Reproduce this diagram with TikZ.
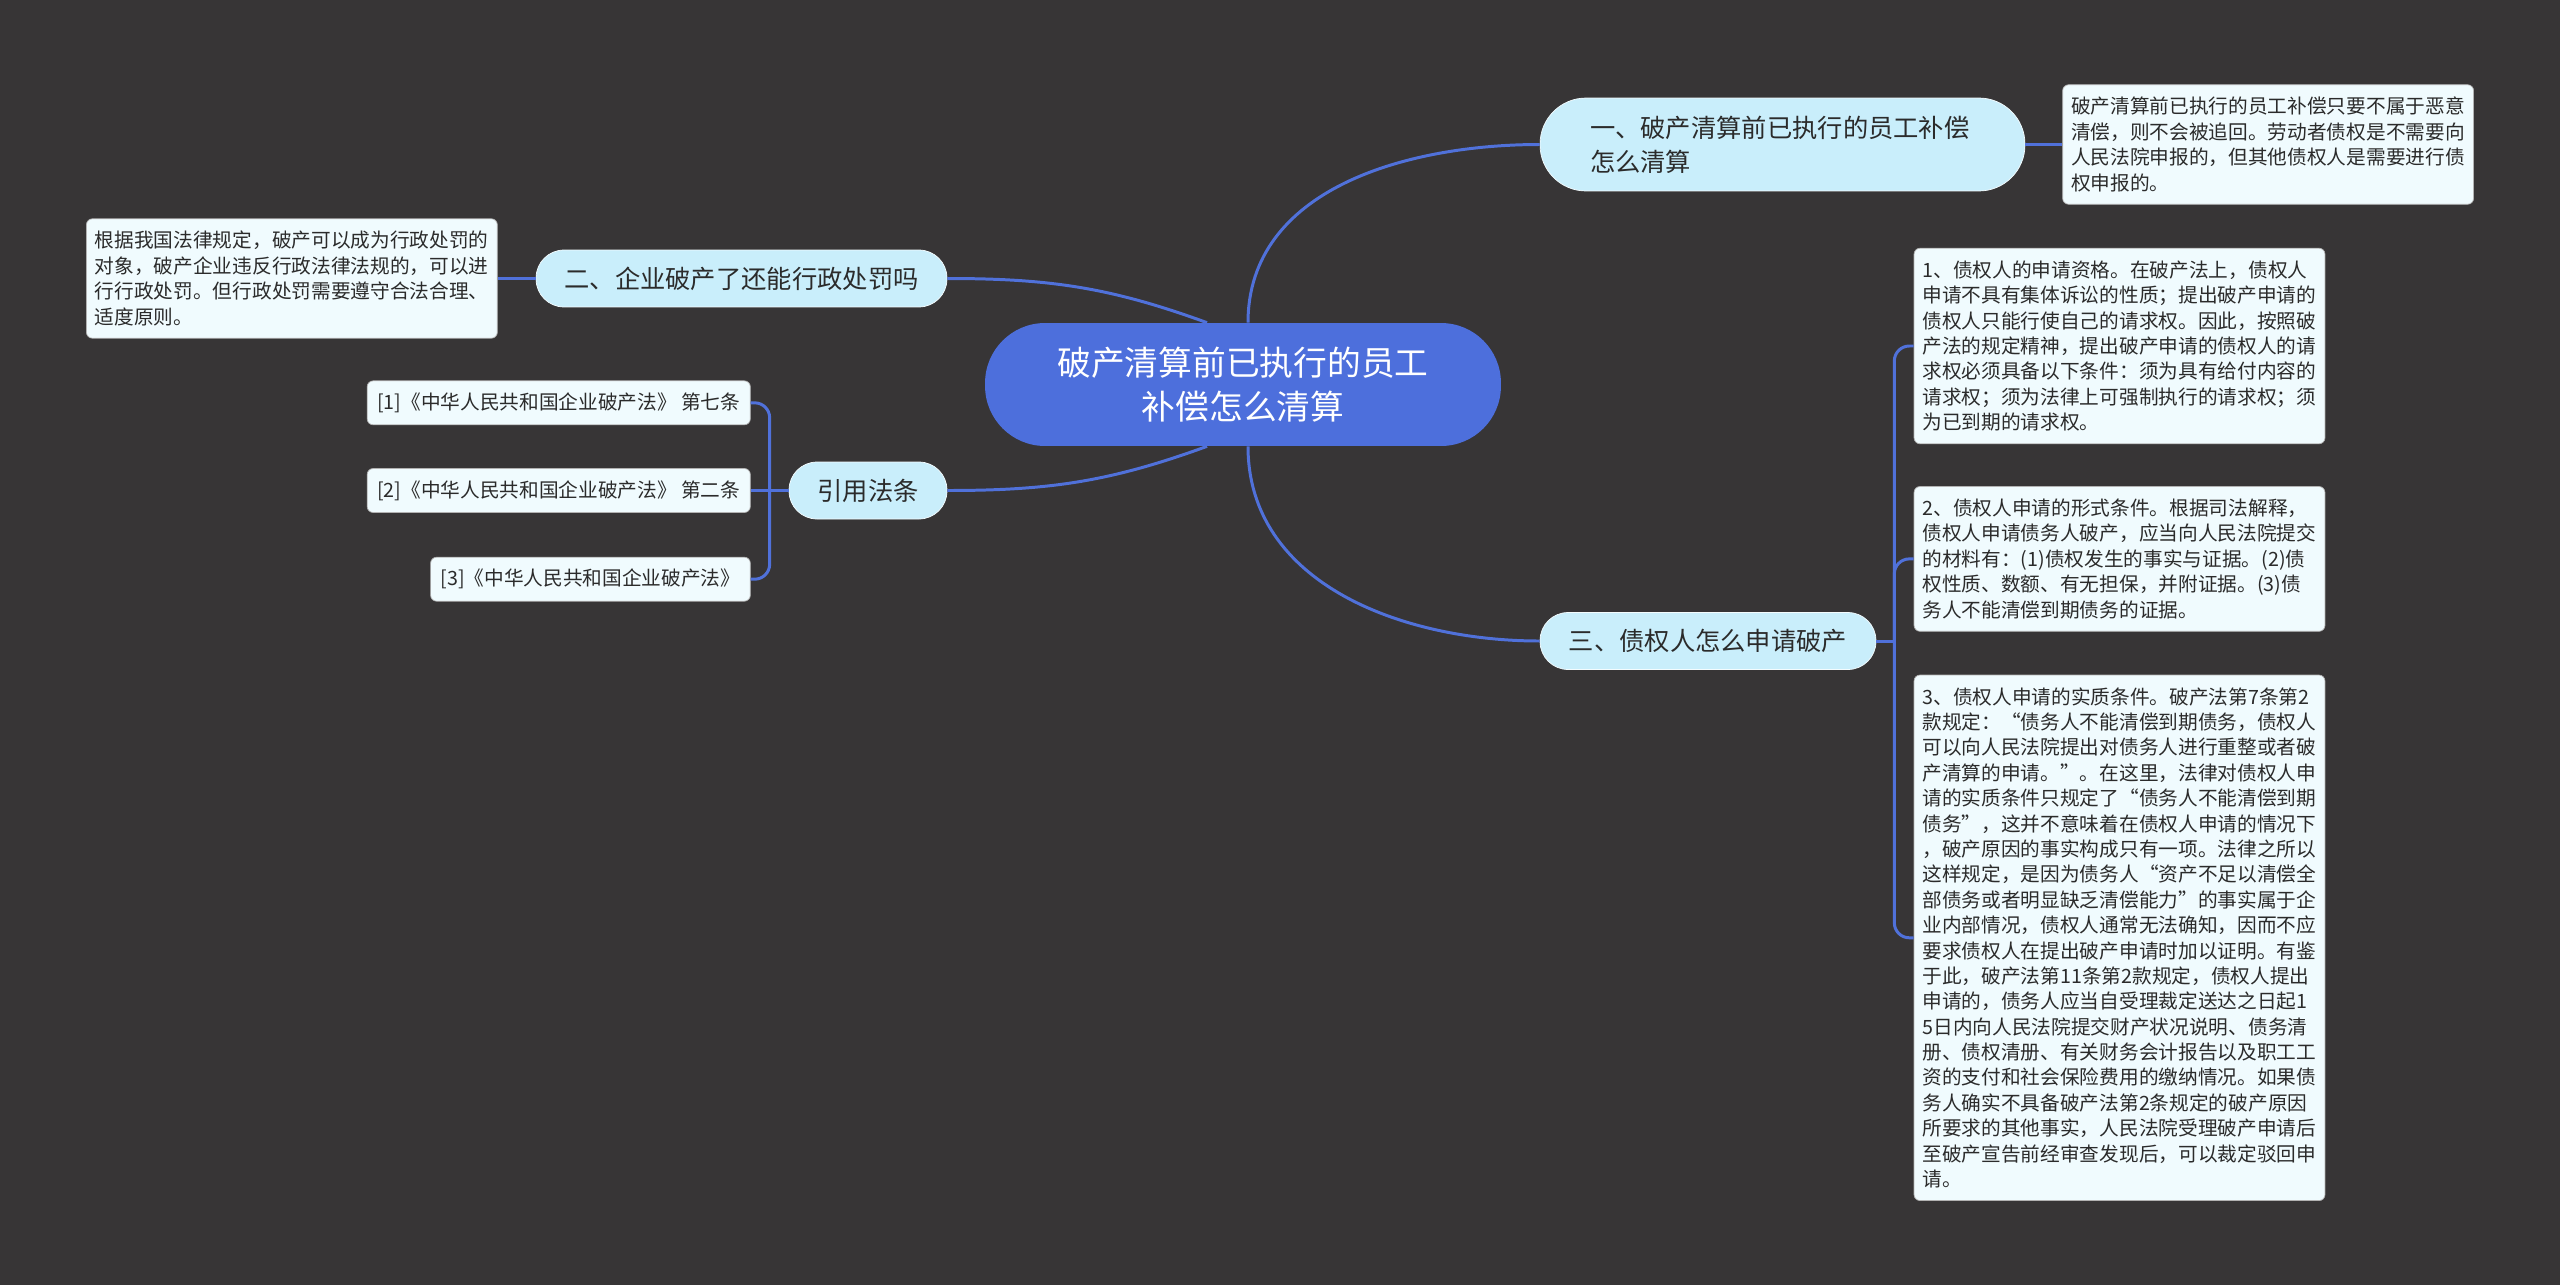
\documentclass[tikz,border=0pt]{standalone}
\usepackage{fontspec}
\setmainfont{Noto Sans CJK SC}
\usetikzlibrary{positioning}
\definecolor{bgdark}{HTML}{373536}
\definecolor{rootblue}{HTML}{4D6FDC}
\definecolor{lineblue}{HTML}{5071DA}
\definecolor{branchblue}{HTML}{C9EEFB}
\definecolor{leafwhite}{HTML}{F0FBFE}
\definecolor{textdark}{HTML}{2B2B2B}
\tikzstyle{root} = [rectangle, rounded corners=1.2cm, minimum width=10.32cm, minimum height=2.46cm, align=center, fill=rootblue, text=white, font=\fontsize{19.2}{25}\selectfont]
\tikzstyle{branch} = [rectangle, rounded corners=0.56cm, minimum height=1.14cm, align=center, fill=branchblue, draw=white!80!branchblue, text=textdark, font=\fontsize{14.4}{19.5}\selectfont]
\tikzstyle{leaf} = [rectangle, rounded corners=0.12cm, text width=7.88cm, inner xsep=0.17cm, inner ysep=0.25cm, align=left, fill=leafwhite, draw=gray!60, text=textdark, font=\fontsize{11.2}{14.45}\selectfont]
\tikzstyle{refbox} = [rectangle, rounded corners=0.12cm, minimum height=0.88cm, inner xsep=0.2cm, fill=leafwhite, draw=gray!60, text=textdark, font=\fontsize{11.2}{14.45}\selectfont]
\tikzstyle{link} = [lineblue, line width=1.7pt]

\begin{document}
\begin{tikzpicture}[x=0.02cm, y=-0.02cm]
\fill [bgdark] (0,0) rectangle (2560,1285);

\node (root) [root] at (1243,384.5) {破产清算前已执行的员工\\补偿怎么清算};

\node (b1) [branch, rounded corners=0.92cm, minimum height=1.86cm, minimum width=9.7cm, text width=7.7cm, align=left] at (1782.5,144.5) {一、破产清算前已执行的员工补偿\\怎么清算};
\node (leaf1) [leaf, right=0.74cm of b1] {破产清算前已执行的员工补偿只要不属于恶意\\清偿，则不会被追回。劳动者债权是不需要向\\人民法院申报的，但其他债权人是需要进行债\\权申报的。};

\node (b2) [branch, minimum width=8.22cm] at (741.5,278.5) {二、企业破产了还能行政处罚吗};
\node (leaf2) [leaf, left=0.76cm of b2] {根据我国法律规定，破产可以成为行政处罚的\\对象，破产企业违反行政法律法规的，可以进\\行行政处罚。但行政处罚需要遵守合法合理、\\适度原则。};

\node (lawref) [branch, minimum width=3.16cm] at (868,490.5) {引用法条};
\node (ref2) [refbox, left=0.76cm of lawref] {[2]《中华人民共和国企业破产法》 第二条};
\node (ref1) [refbox, above=0.86cm of ref2.north east, anchor=south east] {[1]《中华人民共和国企业破产法》 第七条};
\node (ref3) [refbox, below=0.88cm of ref2.south east, anchor=north east] {[3]《中华人民共和国企业破产法》};

\node (b4) [branch, minimum width=6.72cm] at (1708,641) {三、债权人怎么申请破产};
\node (leaf4a) [leaf] at (2119.5,346) {1、债权人的申请资格。在破产法上，债权人\\申请不具有集体诉讼的性质；提出破产申请的\\债权人只能行使自己的请求权。因此，按照破\\产法的规定精神，提出破产申请的债权人的请\\求权必须具备以下条件：须为具有给付内容的\\请求权；须为法律上可强制执行的请求权；须\\为已到期的请求权。};
\node (leaf4b) [leaf, below=0.84cm of leaf4a] {2、债权人申请的形式条件。根据司法解释，\\债权人申请债务人破产，应当向人民法院提交\\的材料有：(1)债权发生的事实与证据。(2)债\\权性质、数额、有无担保，并附证据。(3)债\\务人不能清偿到期债务的证据。};
\node (leaf4c) [leaf, below=0.86cm of leaf4b] {3、债权人申请的实质条件。破产法第7条第2\\款规定：“债务人不能清偿到期债务，债权人\\可以向人民法院提出对债务人进行重整或者破\\产清算的申请。”。在这里，法律对债权人申\\请的实质条件只规定了“债务人不能清偿到期\\债务”，这并不意味着在债权人申请的情况下\\，破产原因的事实构成只有一项。法律之所以\\这样规定，是因为债务人“资产不足以清偿全\\部债务或者明显缺乏清偿能力”的事实属于企\\业内部情况，债权人通常无法确知，因而不应\\要求债权人在提出破产申请时加以证明。有鉴\\于此，破产法第11条第2款规定，债权人提出\\申请的，债务人应当自受理裁定送达之日起1\\5日内向人民法院提交财产状况说明、债务清\\册、债权清册、有关财务会计报告以及职工工\\资的支付和社会保险费用的缴纳情况。如果债\\务人确实不具备破产法第2条规定的破产原因\\所要求的其他事实，人民法院受理破产申请后\\至破产宣告前经审查发现后，可以裁定驳回申\\请。};

% main branches
\draw [link] ([xshift=0.1cm]root.north) to[out=90, in=180] (b1.west);
\draw [link] ([xshift=-0.72cm]root.north) to[out=160, in=0] (b2.east);
\draw [link] ([xshift=-0.72cm]root.south) to[out=200, in=0] (lawref.east);
\draw [link] ([xshift=0.1cm]root.south) to[out=-90, in=180] (b4.west);

\draw [link] (b1.east) -- (leaf1.west);
\draw [link] (b2.west) -- (leaf2.east);

\coordinate (lawhub) at ([xshift=-0.38cm]lawref.west);
\draw [link] (lawref.west) -- (ref2.east);
\draw [link, rounded corners=0.3cm] (lawhub) |- (ref1.east);
\draw [link, rounded corners=0.3cm] (lawhub) |- (ref3.east);

\coordinate (b4hub) at ([xshift=0.36cm]b4.east);
\draw [link] (b4.east) -- (b4hub);
\draw [link, rounded corners=0.3cm] (b4hub) |- (leaf4a.west);
\draw [link, rounded corners=0.3cm] (b4hub) |- (leaf4b.west);
\draw [link, rounded corners=0.3cm] (b4hub) |- (leaf4c.west);

\end{tikzpicture}
\end{document}
